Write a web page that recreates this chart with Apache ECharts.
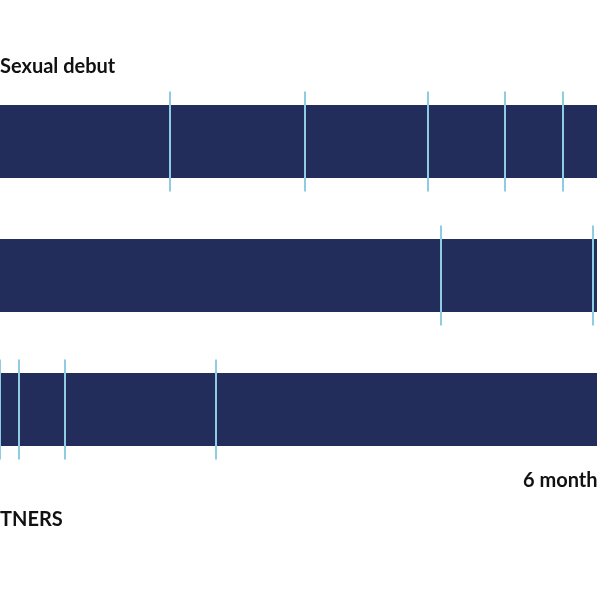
<!DOCTYPE html>
<html><head><meta charset="utf-8">
<script src="https://cdn.jsdelivr.net/npm/echarts@6/dist/echarts.min.js"></script>
<style>html,body{margin:0;padding:0;background:#fff}#c{width:597px;height:597px}</style>
</head><body><div id="c"></div>
<script>
// Rows: vertical centre and half height (in axis units), and tick positions
const rows = [0, 1, 2];
const rowCenters = [141.5, 275.5, 409.5];
const barStart = [0, 0, 0];
const barEnd = [597, 597, 597];
const ticks = [
  [170, 305, 428, 505, 563],
  [441, 593],
  [0, 19, 65, 216]
];
const labels = [
  {text: 'Sexual debut', x: 0, y: 67},
  {text: '6 month', x: 523, y: 481},
  {text: 'TNERS', x: 0, y: 520}
];
const chart = echarts.init(document.getElementById('c'));
const tickData = [];
ticks.forEach((t, r) => t.forEach(v => tickData.push([v, rowCenters[r]])));
chart.setOption({
  animation: false,
  grid: {left: 0, right: 0, top: 0, bottom: 0},
  xAxis: {type: 'value', min: 0, max: 597, show: false},
  yAxis: {type: 'value', min: 0, max: 597, inverse: true, show: false},
  series: [
    {type: 'custom', data: rows.map(r => [barStart[r], barEnd[r], rowCenters[r]]),
     renderItem: (p, api) => {
       const a = api.coord([api.value(0), api.value(2) - 36.5]);
       const b = api.coord([api.value(1), api.value(2) + 36.5]);
       return {type: 'rect', shape: {x: a[0], y: a[1], width: b[0] - a[0], height: b[1] - a[1]}, style: {fill: '#232d5c'}};
     }},
    {type: 'custom', data: tickData,
     renderItem: (p, api) => {
       const a = api.coord([api.value(0), api.value(1) - 50]);
       const b = api.coord([api.value(0), api.value(1) + 50]);
       return {type: 'line', shape: {x1: a[0], y1: a[1], x2: b[0], y2: b[1]}, style: {stroke: '#8fcbe3', lineWidth: 2}};
     }},
    {type: 'custom', data: labels.map(l => [l.x, l.y, l.text]),
     renderItem: (p, api) => {
       const a = api.coord([api.value(0), api.value(1)]);
       return {type: 'text', x: a[0], y: a[1], style: {text: labels[p.dataIndex].text, fill: '#111', font: 'bold 20px Lato, sans-serif', verticalAlign: 'middle', align: 'left'}};
     }}
  ]
});
</script></body></html>
